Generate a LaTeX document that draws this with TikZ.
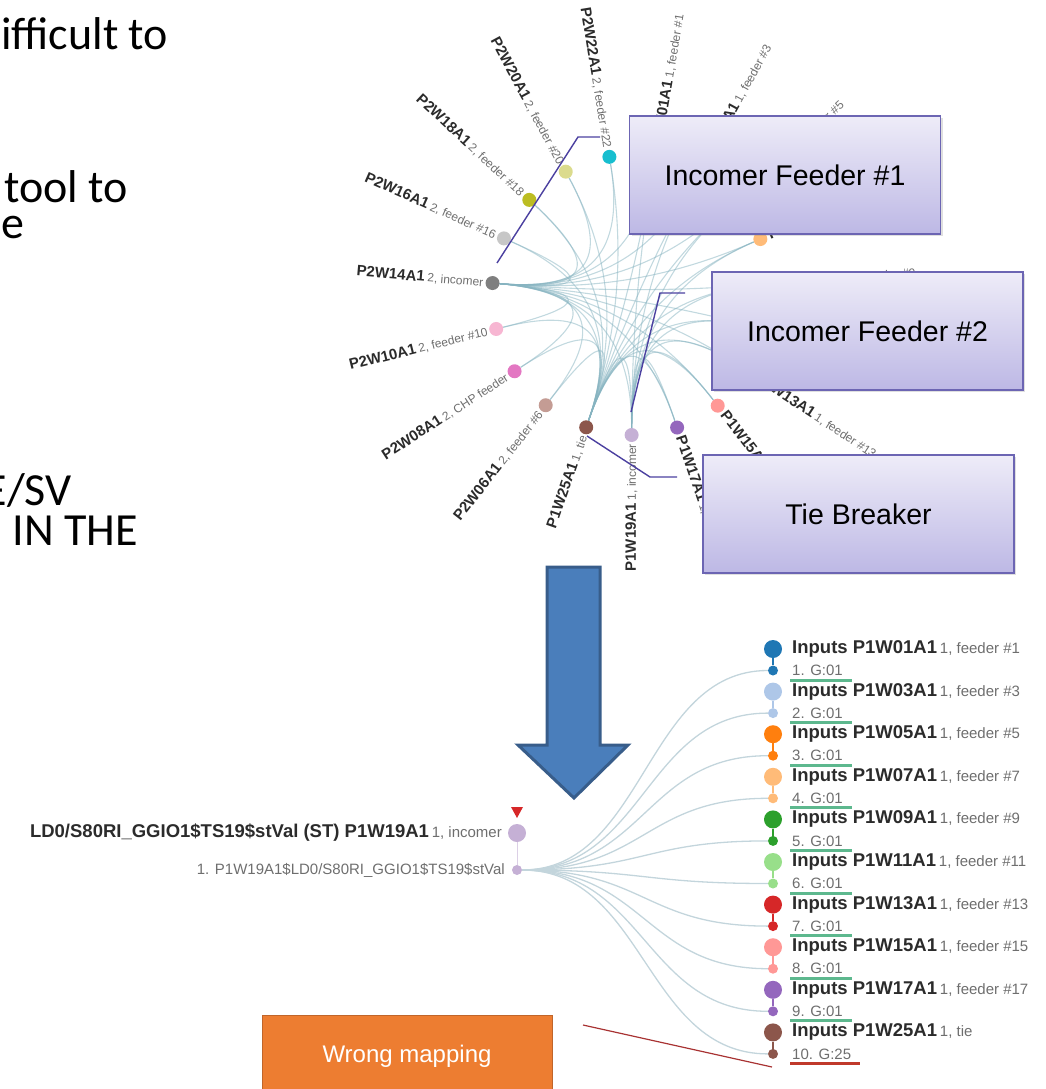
\documentclass[tikz,border=0pt]{standalone}
\usepackage{fontspec}
\setmainfont{Liberation Sans}
\newfontfamily\slidefont{Carlito}
\usetikzlibrary{calc,shadows,backgrounds}

% node colours (category20)
\definecolor{cP1W01A1}{HTML}{1F77B4}
\definecolor{cP1W03A1}{HTML}{AEC7E8}
\definecolor{cP1W05A1}{HTML}{FF7F0E}
\definecolor{cP1W07A1}{HTML}{FFBB78}
\definecolor{cP1W09A1}{HTML}{2CA02C}
\definecolor{cP1W11A1}{HTML}{98DF8A}
\definecolor{cP1W13A1}{HTML}{D62728}
\definecolor{cP1W15A1}{HTML}{FF9896}
\definecolor{cP1W17A1}{HTML}{9467BD}
\definecolor{cP1W19A1}{HTML}{C5B0D5}
\definecolor{cP1W25A1}{HTML}{8C564B}
\definecolor{cP2W06A1}{HTML}{C49C94}
\definecolor{cP2W08A1}{HTML}{E377C2}
\definecolor{cP2W10A1}{HTML}{F7B6D2}
\definecolor{cP2W14A1}{HTML}{7F7F7F}
\definecolor{cP2W16A1}{HTML}{C7C7C7}
\definecolor{cP2W18A1}{HTML}{BCBD22}
\definecolor{cP2W20A1}{HTML}{DBDB8D}
\definecolor{cP2W22A1}{HTML}{17BECF}

\definecolor{edgeblue}{HTML}{86B3C0}
\definecolor{fanblue}{HTML}{C3D5DC}
\definecolor{labdark}{HTML}{2B2B2B}
\definecolor{labgray}{HTML}{6E6E6E}
\definecolor{boxtop}{HTML}{EEECF8}
\definecolor{boxbot}{HTML}{BDB8E5}
\definecolor{boxline}{HTML}{6C65B3}
\definecolor{calline}{HTML}{4B40A0}
\definecolor{arrowfill}{HTML}{4A7EBB}
\definecolor{arrowline}{HTML}{385D8A}
\definecolor{okgreen}{HTML}{5DB88E}
\definecolor{badred}{HTML}{C0392B}
\definecolor{flagred}{HTML}{D62728}
\definecolor{wrongfill}{HTML}{ED7D31}
\definecolor{wrongline}{HTML}{C0652A}
\definecolor{pointred}{HTML}{A83232}

\newcommand\labbold{\fontsize{15}{17}\selectfont\bfseries}
\newcommand\labreg{\fontsize{12}{14}\selectfont}
\newcommand\rowbold{\fontsize{18.5}{21}\selectfont\bfseries}
\newcommand\rowreg{\fontsize{15}{17}\selectfont}

\tikzset{
  graphdot/.style={circle, fill=#1, inner sep=0pt, minimum size=14pt},
  bigdot/.style={circle, fill=#1, inner sep=0pt, minimum size=18pt},
  smalldot/.style={circle, fill=#1, inner sep=0pt, minimum size=10pt},
  bundle/.style={edgeblue, line width=1.1pt, opacity=0.5},
  fanlink/.style={fanblue, line width=1.3pt},
  radlabel/.style={inner sep=0pt},
  callbox/.style={draw=boxline, line width=1.3pt, top color=boxtop, bottom color=boxbot,
    minimum width=311pt, minimum height=118pt, font=\fontsize{28.5}{30}\selectfont,
    drop shadow={shadow xshift=2pt, shadow yshift=-2pt, opacity=0.25}},
  callline/.style={calline, line width=1.4pt},
  slidetxt/.style={font=\slidefont\fontsize{46}{50}\selectfont, inner sep=0pt},
  rowtxt/.style={anchor=west, inner sep=0pt},
  wrongbox/.style={fill=wrongfill, draw=wrongline, line width=0.8pt, text=white,
    minimum width=290pt, minimum height=82pt, font=\fontsize{24}{26}\selectfont},
}

\def\radnodes{P2W22A1/{2, feeder \#22}, P2W20A1/{2, feeder \#20}, P2W18A1/{2, feeder \#18},
  P2W16A1/{2, feeder \#16}, P2W14A1/{2, incomer}, P2W10A1/{2, feeder \#10},
  P2W08A1/{2, CHP feeder}, P2W06A1/{2, feeder \#6}, P1W25A1/{1, tie},
  P1W19A1/{1, incomer}, P1W17A1/{1, feeder \#17}, P1W15A1/{1, feeder \#15},
  P1W13A1/{1, feeder \#13}, P1W11A1/{1, feeder \#11}, P1W09A1/{1, feeder \#9},
  P1W07A1/{1, feeder \#7}, P1W05A1/{1, feeder \#5}, P1W03A1/{1, feeder \#3},
  P1W01A1/{1, feeder \#1}}

\def\rows{P1W01A1/{1, feeder \#1}/01/okgreen, P1W03A1/{1, feeder \#3}/01/okgreen,
  P1W05A1/{1, feeder \#5}/01/okgreen, P1W07A1/{1, feeder \#7}/01/okgreen,
  P1W09A1/{1, feeder \#9}/01/okgreen, P1W11A1/{1, feeder \#11}/01/okgreen,
  P1W13A1/{1, feeder \#13}/01/okgreen, P1W15A1/{1, feeder \#15}/01/okgreen,
  P1W17A1/{1, feeder \#17}/01/okgreen, P1W25A1/{1, tie}/25/badred}

\begin{document}
\begin{tikzpicture}[x=1pt,y=1pt]
  \useasboundingbox (0,0) rectangle (1046,-1089);

  %% slide text, cut at the left edge
  \node[slidetxt, anchor=base west] (txta) at (1,-50) {ifficult to};
  \node[slidetxt, anchor=base east] (txtb) at (128,-202) {tool to};
  \node[slidetxt, anchor=base west] (txtc) at (1,-238) {e};
  \node[slidetxt, anchor=base east] (txtd) at (72,-505) {E/SV};
  \node[slidetxt, anchor=base east] (txte) at (138,-545) {IN THE};

  %% radial graph
  \coordinate (hub) at (632,-295);
  \foreach \nm/\desc [count=\i from 0] in \radnodes {
    \pgfmathsetmacro\ang{99.3+18.95*\i}
    \pgfmathtruncatemacro\flip{\ang<270}
    \node[graphdot=c\nm] (\nm) at ([shift={(\ang:140)}]hub) {};
    \ifnum\flip=1
      \node[radlabel, anchor=east, rotate=\ang-180] (l\nm) at ([shift={(\ang:149)}]hub)
        {{\labbold\color{labdark}\nm} {\labreg\color{labgray}\desc}};
    \else
      \node[radlabel, anchor=west, rotate=\ang] (l\nm) at ([shift={(\ang:149)}]hub)
        {{\labbold\color{labdark}\nm} {\labreg\color{labgray}\desc}};
    \fi
  }

  \begin{pgfonlayer}{background}
    \foreach \b in {P1W01A1,P1W03A1,P1W05A1,P1W07A1,P1W09A1,P1W11A1,P1W13A1,P1W15A1,P1W17A1}
      \foreach \a in {P1W19A1,P1W25A1,P2W14A1}
        \draw[bundle] (\a) .. controls ($(hub)!0.3!(\a)$) and ($(hub)!0.3!(\b)$) .. (\b);
    \foreach \b in {P2W06A1,P2W08A1,P2W10A1,P2W16A1,P2W18A1,P2W20A1,P2W22A1}
      \foreach \a in {P1W25A1,P2W14A1}
        \draw[bundle] (\a) .. controls ($(hub)!0.3!(\a)$) and ($(hub)!0.3!(\b)$) .. (\b);
    \foreach \a/\b in {P1W19A1/P1W25A1, P1W19A1/P2W14A1, P1W25A1/P2W14A1}
      \draw[bundle] (\a) .. controls ($(hub)!0.3!(\a)$) and ($(hub)!0.3!(\b)$) .. (\b);
  \end{pgfonlayer}

  %% call-out boxes
  \node[callbox] (feedone) at (785,-175) {Incomer Feeder \#1};
  \node[callbox] (feedtwo) at (867.5,-331) {Incomer Feeder \#2};
  \node[callbox] (tiebox) at (858.5,-514) {Tie Breaker};

  \coordinate (ca1) at (600,-137); \coordinate (ca2) at (578,-137); \coordinate (ca3) at (497,-263);
  \draw[callline] (ca1) -- (ca2) -- (ca3);
  \coordinate (cb1) at (685,-293); \coordinate (cb2) at (660,-293); \coordinate (cb3) at (631,-412);
  \draw[callline] (cb1) -- (cb2) -- (cb3);
  \coordinate (cc1) at (677,-477); \coordinate (cc2) at (650,-477); \coordinate (cc3) at (587,-436);
  \draw[callline] (cc1) -- (cc2) -- (cc3);

  %% big arrow
  \draw[fill=arrowfill, draw=arrowline, line width=3pt, line join=miter]
    (547,-567) -- (600,-567) -- (600,-745) -- (628,-745) -- (574,-798)
    -- (518,-745) -- (547,-745) -- cycle;

  %% mapping view
  \node[bigdot=cP1W19A1] (srcbig) at (517,-833) {};
  \node[smalldot=cP1W19A1] (src) at (517,-870) {};
  \fill[flagred] ([shift={(-6,26)}]srcbig.center) -- ([shift={(6,26)}]srcbig.center)
    -- ([shift={(0,15)}]srcbig.center) -- cycle;
  \node[anchor=east, inner sep=0pt] (srclab) at (502,-833)
    {{\rowbold\color{labdark}LD0/S80RI\_GGIO1\$TS19\$stVal (ST) P1W19A1} {\rowreg\color{labgray}1, incomer}};
  \node[anchor=east, inner sep=0pt, font=\rowreg, text=labgray] (srcsig) at (505,-870)
    {1. P1W19A1\$LD0/S80RI\_GGIO1\$TS19\$stVal};
  \begin{pgfonlayer}{background}
    \draw[cP1W19A1!60, line width=1pt] (srcbig) -- (src);
  \end{pgfonlayer}

  \foreach \nm/\desc/\g/\ul [count=\i] in \rows {
    \pgfmathsetmacro\yb{649+42.6*(\i-1)}
    \node[bigdot=c\nm] (in\i) at (773,-\yb) {};
    \node[smalldot=c\nm] (out\i) at (773,-\yb-21.5) {};
    \node[rowtxt] (inlab\i) at (792,-\yb)
      {{\rowbold\color{labdark}Inputs \nm} {\rowreg\color{labgray}\desc}};
    \node[rowtxt, font=\rowreg, text=labgray] (outlab\i) at (792,-\yb-21.5) {\i. G:\g};
    \draw[\ul, line width=3pt] ([shift={(-2,-4)}]outlab\i.south west)
      -- ([shift={(9,-4)}]outlab\i.south east);
    \begin{pgfonlayer}{background}
      \draw[c\nm, line width=1.5pt] (in\i) -- (out\i);
      \draw[fanlink] (src) .. controls +(128,0) and +(-128,0) .. (out\i);
    \end{pgfonlayer}
  }

  %% wrong mapping note
  \node[wrongbox] (wrong) at (407,-1056) {Wrong mapping};
  \coordinate (wp1) at (583,-1025); \coordinate (wp2) at (772,-1067);
  \draw[pointred, line width=1.2pt] (wp1) -- (wp2);
\end{tikzpicture}
\end{document}
